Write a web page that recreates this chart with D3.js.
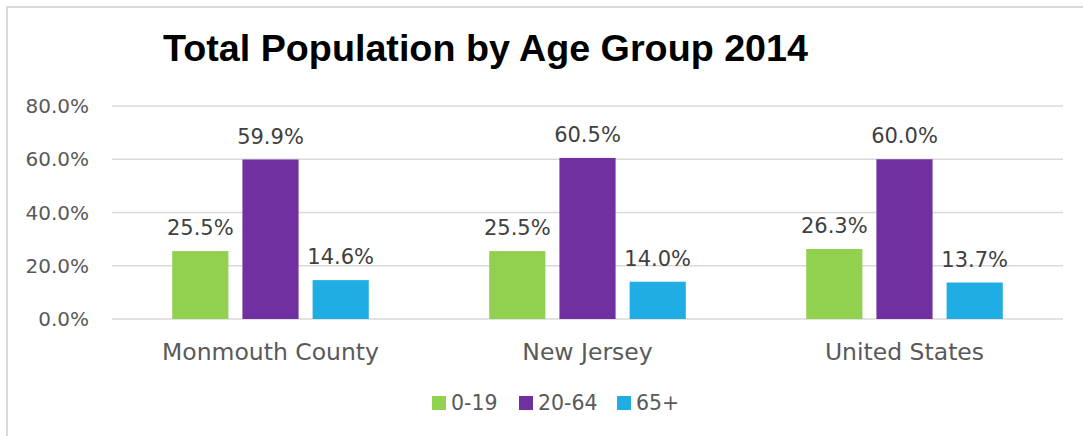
<!DOCTYPE html>
<html>
<head>
<meta charset="utf-8">
<script src="https://cdn.jsdelivr.net/npm/d3@7"></script>
<style>
  html, body { margin: 0; padding: 0; background: #fff; }
  svg { display: block; }
</style>
</head>
<body>
<div id="chart"></div>
<script>
// Chart data
const categories = ['Monmouth County', 'New Jersey', 'United States'];
const series = ['0-19', '20-64', '65+'];
const colors = ['#92D050', '#7030A0', '#1FADE4'];
const values019 = [25.5, 25.5, 26.3];
const values2064 = [59.9, 60.5, 60.0];
const values65 = [14.6, 14.0, 13.7];
const yTicks = [0, 20, 40, 60, 80];
const title = 'Total Population by Age Group 2014';

const W = 1083, H = 436;
const font = '"DejaVu Sans", sans-serif';
const textColor = '#595959';

const svg = d3.select('#chart').append('svg')
  .attr('width', W).attr('height', H);

// outer chart frame (only top/left visible)
svg.append('rect')
  .attr('x', 7).attr('y', 7)
  .attr('width', W + 20).attr('height', H + 20)
  .attr('fill', '#fff')
  .attr('stroke', '#D9D9D9').attr('stroke-width', 2);

const plot = { left: 112, right: 1063, top: 106, bottom: 319 };

const y = d3.scaleLinear().domain([0, 80]).range([plot.bottom, plot.top]);

const x0 = d3.scaleBand().domain(categories)
  .range([plot.left, plot.right])
  .paddingInner(0.38).paddingOuter(0.19);

const x1 = d3.scaleBand().domain(series)
  .range([0, x0.bandwidth()])
  .paddingInner(0.2);

// gridlines
svg.append('g').selectAll('line').data(yTicks).join('line')
  .attr('x1', plot.left).attr('x2', plot.right)
  .attr('y1', d => y(d)).attr('y2', d => y(d))
  .attr('stroke', '#D9D9D9').attr('stroke-width', 1.5);

// y tick labels
svg.append('g').selectAll('text').data(yTicks).join('text')
  .attr('x', 89).attr('y', d => y(d)).attr('dy', '0.36em')
  .attr('text-anchor', 'end')
  .attr('font-family', font).attr('font-size', 20)
  .attr('fill', textColor)
  .text(d => d.toFixed(1) + '%');

const seriesValues = [values019, values2064, values65];
const rows = [];
categories.forEach((c, i) => {
  series.forEach((s, j) => {
    rows.push({ cat: c, ser: s, value: seriesValues[j][i], color: colors[j] });
  });
});

// bars
svg.append('g').selectAll('rect').data(rows).join('rect')
  .attr('x', d => x0(d.cat) + x1(d.ser))
  .attr('y', d => y(d.value))
  .attr('width', x1.bandwidth())
  .attr('height', d => y(0) - y(d.value))
  .attr('fill', d => d.color);

// data labels
svg.append('g').selectAll('text').data(rows).join('text')
  .attr('x', d => x0(d.cat) + x1(d.ser) + x1.bandwidth() / 2)
  .attr('y', d => y(d.value) - 16)
  .attr('text-anchor', 'middle')
  .attr('font-family', font).attr('font-size', 21)
  .attr('fill', '#404040')
  .text(d => d.value.toFixed(1) + '%');

// category labels
svg.append('g').selectAll('text').data(categories).join('text')
  .attr('x', d => x0(d) + x0.bandwidth() / 2)
  .attr('y', 360)
  .attr('text-anchor', 'middle')
  .attr('font-family', font).attr('font-size', 23.5)
  .attr('fill', textColor)
  .text(d => d);

// title
svg.append('text')
  .attr('x', 163).attr('y', 61)
  .attr('font-family', '"Liberation Sans", Arial, sans-serif')
  .attr('font-weight', 'bold').attr('font-size', 36)
  .attr('fill', '#000')
  .attr('textLength', 645).attr('lengthAdjust', 'spacingAndGlyphs')
  .text(title);

// legend
const legendX = [432, 519, 617];
const legend = svg.append('g').selectAll('g').data(series).join('g')
  .attr('transform', (d, i) => `translate(${legendX[i]},396)`);
legend.append('rect')
  .attr('width', 14).attr('height', 14)
  .attr('fill', (d, i) => colors[i]);
legend.append('text')
  .attr('x', 19).attr('y', 14)
  .attr('font-family', font).attr('font-size', 20.5)
  .attr('fill', textColor)
  .text(d => d);
</script>
</body>
</html>
